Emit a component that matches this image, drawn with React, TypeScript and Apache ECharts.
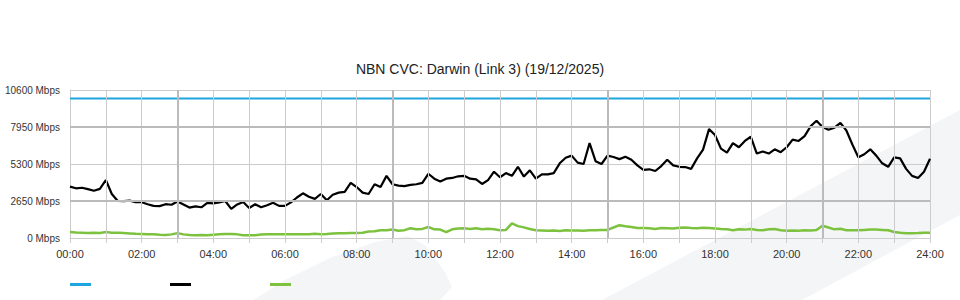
import React, { useEffect, useRef } from "react";
import * as echarts from "echarts";

// 10-minute samples from 00:00 to 24:00 (145 points)
const trafficIn: number[] = [
  3680, 3560, 3600, 3500, 3380, 3520, 4150,
  3150, 2650, 2640, 2680, 2560, 2560,
  2420, 2300, 2280, 2420, 2380, 2620,
  2400, 2180, 2260, 2200, 2520, 2480,
  2550, 2650, 2080, 2400, 2580, 2150,
  2420, 2200, 2350, 2530, 2300, 2300,
  2550, 2900, 3200, 2950, 2800, 3150,
  2700, 3100, 3250, 3300, 3950, 3650,
  3250, 3150, 3850, 3650, 4450, 3850,
  3750, 3720, 3800, 3850, 3950, 4600,
  4250, 4050, 4250, 4300, 4420, 4450,
  4250, 4200, 3870, 4150, 4750, 4350,
  4650, 4450, 5100, 4400, 4850, 4250,
  4560, 4560, 4650, 5350, 5750, 5900,
  5400, 5300, 6800, 5500, 5300, 5900,
  5800, 5650, 5820, 5600, 5200, 4880,
  4920, 4800, 5150, 5600, 5200, 5100,
  5080, 4950, 5700, 6330, 7800, 7380,
  6400, 6110, 6800, 6500, 6950, 7250,
  6050, 6200, 6050, 6350, 6150, 6500,
  7050, 6950, 7300, 8000, 8400, 7950,
  7750, 7900, 8250, 7700, 6700, 5780,
  6000, 6350, 5900, 5350, 5100, 5770,
  5700, 4950, 4450, 4300, 4750, 5680,
];

const trafficOut: number[] = [
  430, 400, 380, 360, 380, 360, 430,
  380, 370, 360, 330, 300, 280,
  260, 270, 230, 220, 260, 350,
  260, 220, 200, 210, 200, 230,
  260, 280, 280, 260, 200, 190,
  200, 250, 260, 260, 260, 265,
  265, 270, 265, 265, 300, 270,
  290, 330, 340, 340, 350, 350,
  380, 460, 480, 560, 560, 610,
  520, 560, 700, 620, 650, 790,
  620, 600, 420, 620, 680, 700,
  650, 700, 620, 660, 620, 560,
  580, 1050, 850, 760, 650, 560,
  540, 520, 530, 500, 560, 540,
  540, 520, 560, 560, 580, 580,
  750, 920, 840, 780, 720, 720,
  700, 650, 720, 700, 680, 740,
  760, 720, 700, 740, 720, 680,
  640, 620, 560, 620, 600, 640,
  580, 560, 620, 640, 560, 520,
  540, 520, 560, 540, 580, 880,
  750, 620, 660, 560, 560, 560,
  580, 600, 600, 580, 560, 430,
  380, 340, 340, 350, 380, 380,
];

const capacityHours: number[] = [0, 24];
const capacityValues: number[] = [10000, 10000];

const yTicks: number[] = [0, 2650, 5300, 7950, 10600];
const hourLines: number[] = [1, 2, 4, 5, 6, 7, 8, 10, 11, 12, 13, 14, 16, 17, 18, 19, 20, 22, 23];
const darkHourLines: number[] = [3, 9, 15, 21];
const darkLevelLines: number[] = [2650, 7950];

const titleText = "NBN CVC: Darwin (Link 3) (19/12/2025)";

const pad = (n: number) => (n < 10 ? "0" + n : "" + n);

export default function App() {
  const ref = useRef<HTMLDivElement>(null);

  useEffect(() => {
    if (!ref.current) return;
    const chart = echarts.init(ref.current, undefined, { renderer: "svg" });
    const step = 24 / (trafficIn.length - 1);
    const inData = trafficIn.map((v, i) => [i * step, v]);
    const outData = trafficOut.map((v, i) => [i * step, v]);
    const capData = capacityHours.map((h, i) => [h, capacityValues[i]]);
    const font = "'Liberation Sans', Arial, sans-serif";

    chart.setOption({
      animation: false,
      backgroundColor: "#ffffff",
      textStyle: { fontFamily: font },
      title: {
        text: titleText,
        left: "center",
        top: 62,
        padding: 0,
        textStyle: { fontSize: 14, fontWeight: "normal", color: "#222", fontFamily: font },
      },
      graphic: {
        elements: [
          {
            type: "polygon",
            z: -10,
            silent: true,
            shape: { points: [[602, 300], [960, 110], [960, 215], [802, 300]] },
            style: { fill: "#f4f5f7" },
          },
          {
            type: "polygon",
            z: -10,
            silent: true,
            shape: {
              points: [
                [253, 300], [285, 280], [330, 258], [375, 242], [408, 236],
                [425, 245], [445, 272], [452, 287], [440, 300],
              ],
            },
            style: { fill: "#f4f5f7" },
          },
        ],
      },
      legend: {
        left: 65,
        top: 278,
        icon: "rect",
        itemWidth: 21,
        itemHeight: 3,
        itemGap: 79,
        formatter: () => "",
        data: ["Capacity", "Traffic In", "Traffic Out"],
      },
      grid: { left: 70, right: 30, top: 90, bottom: 62 },
      xAxis: {
        type: "value",
        min: 0,
        max: 24,
        interval: 1,
        axisLine: { show: true, lineStyle: { color: "#cccccc", width: 1 } },
        axisTick: { show: true, length: 5, lineStyle: { color: "#cccccc" } },
        axisLabel: {
          color: "#333",
          fontSize: 11,
          margin: 10,
          fontFamily: font,
          formatter: (v: number) => (v % 2 === 0 ? pad(v) + ":00" : ""),
        },
        splitLine: { show: true, lineStyle: { color: "#cccccc", width: 1 } },
      },
      yAxis: {
        type: "value",
        min: yTicks[0],
        max: yTicks[yTicks.length - 1],
        interval: yTicks[1] - yTicks[0],
        axisLine: { show: true, lineStyle: { color: "#cccccc" } },
        axisTick: { show: false },
        axisLabel: {
          color: "#333",
          fontSize: 10,
          margin: 10,
          fontFamily: font,
          formatter: (v: number) => v + " Mbps",
        },
        splitLine: { show: true, lineStyle: { color: "#cccccc", width: 1 } },
      },
      series: [
        {
          name: "grid-light",
          type: "line",
          data: [],
          z: 1,
          silent: true,
          markLine: {
            silent: true,
            symbol: "none",
            label: { show: false },
            lineStyle: { color: "#cccccc", width: 1, type: "solid" },
            data: hourLines.map((h) => ({ xAxis: h })),
          },
        },
        {
          name: "grid-emphasis",
          type: "line",
          data: [],
          z: 1,
          silent: true,
          markLine: {
            silent: true,
            symbol: "none",
            label: { show: false },
            lineStyle: { color: "#bbbbbb", width: 2, type: "solid" },
            data: [
              ...darkHourLines.map((h) => ({ xAxis: h })),
              ...darkLevelLines.map((v) => ({ yAxis: v })),
            ],
          },
        },
        {
          name: "Capacity",
          type: "line",
          data: capData,
          z: 3,
          showSymbol: false,
          color: "#1ea6e0",
          lineStyle: { color: "#1ea6e0", width: 2 },
        },
        {
          name: "Traffic In",
          type: "line",
          data: inData,
          z: 4,
          showSymbol: false,
          color: "#000000",
          lineStyle: { color: "#000000", width: 2.2 },
        },
        {
          name: "Traffic Out",
          type: "line",
          data: outData,
          z: 4,
          showSymbol: false,
          color: "#7cc23f",
          lineStyle: { color: "#7cc23f", width: 2.5 },
        },
      ],
    });
    return () => chart.dispose();
  }, []);

  return (
    <div
      ref={ref}
      style={{ position: "absolute", left: 0, top: 0, width: 960, height: 300 }}
    />
  );
}
